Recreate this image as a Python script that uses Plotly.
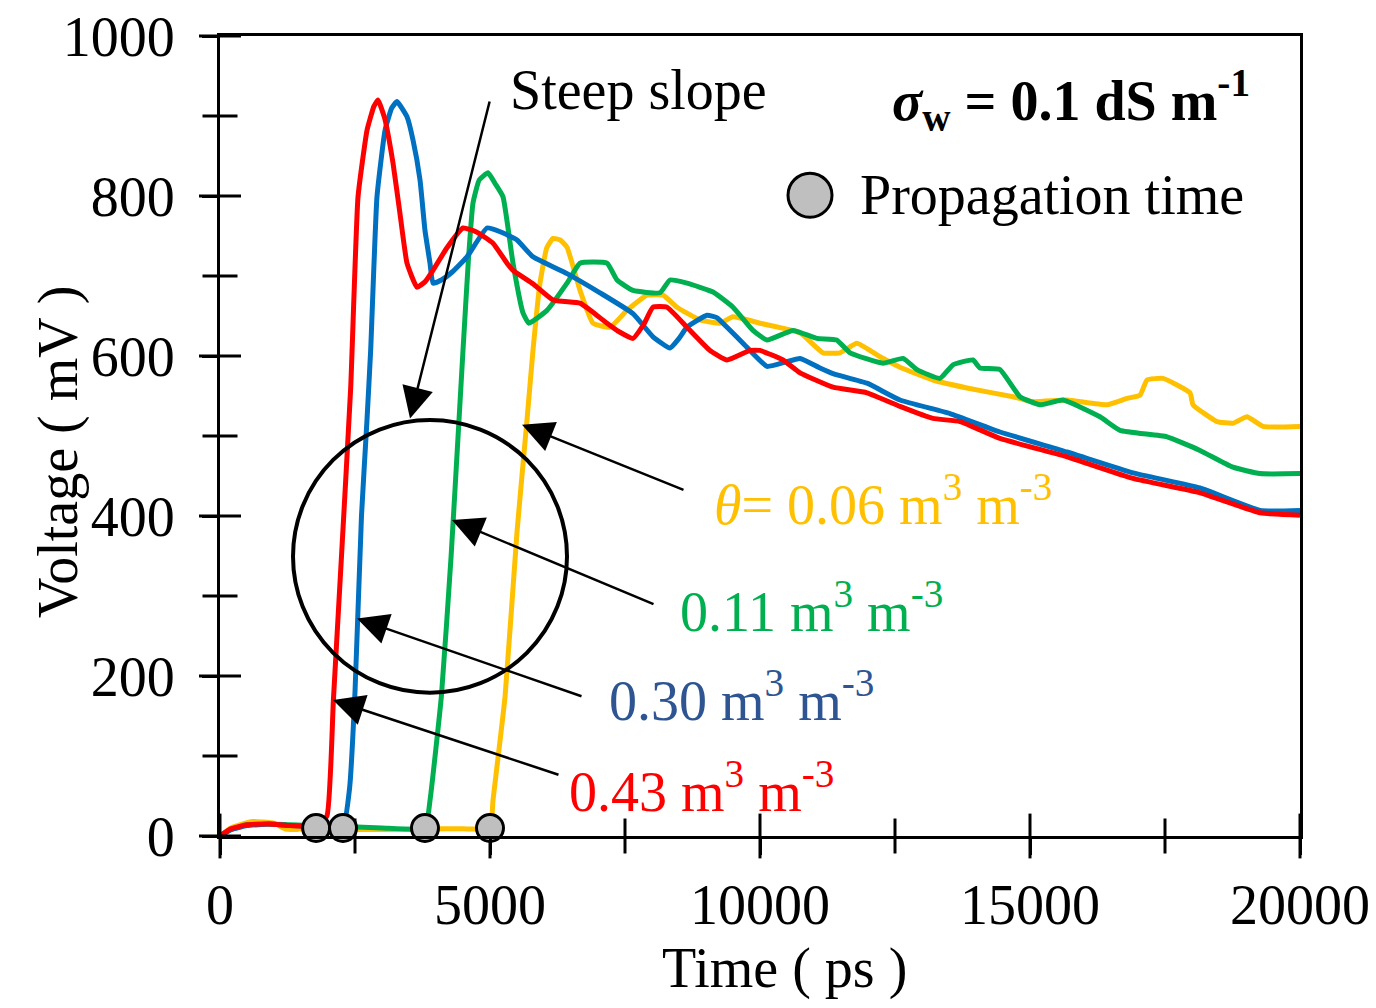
import plotly.graph_objects as go

# ---------------- data ----------------
red_t = [0, 200, 500, 900, 1300, 1780, 1980, 2100, 2250, 2420, 2556, 2722, 2850, 2926, 3050, 3204, 3333,
         3463, 3648, 3800, 3944, 4200, 4500, 4750, 5056, 5315, 5426, 5800, 6167, 6667, 6900, 7167, 7400,
         7648, 7850, 8019, 8278, 8648, 9074, 9389, 9815, 10000, 10426, 10741, 11352, 11982, 12593, 13204,
         13704, 14444, 15685, 16907, 18148, 19259, 20000]
red_v = [0, 9, 14, 15, 13, 12, 25, 170, 350, 560, 799, 882, 912, 920, 897, 841, 778,
         716, 686, 693, 707, 735, 760, 755, 741, 716, 707, 690, 670, 666, 655, 641, 630,
         622, 640, 661, 661, 636, 607, 595, 607, 607, 595, 579, 561, 554, 537, 522,
         518, 497, 474, 447, 429, 404, 401]

blue_t = [0, 200, 500, 900, 1300, 1800, 2278, 2400, 2500, 2620, 2722, 2790, 2907, 3056, 3180, 3278, 3463,
          3574, 3704, 3796, 3889, 3944, 4100, 4300, 4574, 4944, 5200, 5500, 5796, 6426, 7037, 7648, 8019,
          8333, 8500, 8648, 9019, 9200, 9389, 9685, 10130, 10450, 10741, 11111, 11352, 11982, 12593, 13519,
          14444, 15685, 16907, 18148, 19259, 20000]
blue_v = [0, 8, 13, 15, 13, 12, 12, 60, 180, 400, 520, 607, 799, 882, 910, 918, 899,
          870, 820, 757, 716, 691, 695, 705, 724, 760, 755, 745, 724, 703, 679, 653, 624,
          610, 622, 636, 651, 648, 636, 616, 587, 592, 597, 585, 578, 566, 545, 528,
          505, 480, 454, 435, 407, 407]

green_t = [0, 200, 500, 900, 1300, 1800, 2300, 3000, 3796, 3890, 4100, 4280, 4426, 4500, 4600, 4685, 4800,
           4963, 5100, 5241, 5426, 5611, 5720, 6056, 6426, 6667, 7167, 7352, 7648, 8148, 8333, 8648, 9130,
           9500, 9870, 10130, 10611, 11056, 11420, 11667, 12278, 12648, 12907, 13333, 13574, 13944, 14074,
           14444, 14815, 15185, 15611, 16296, 16667, 17537, 18148, 18759, 19259, 20000]
green_v = [0, 8, 14, 15, 14, 13, 12, 10, 10, 45, 175, 350, 520, 607, 720, 791, 820,
           829, 815, 799, 716, 654, 641, 657, 691, 716, 716, 695, 682, 679, 695, 691, 680,
           661, 632, 620, 632, 622, 620, 604, 591, 597, 583, 572, 589, 595, 585,
           583, 549, 539, 545, 524, 507, 499, 482, 461, 453, 453]

yellow_t = [0, 200, 600, 1000, 1200, 1420, 1700, 2000, 2500, 3000, 3500, 4000, 4500, 5000, 5056, 5280,
            5500, 5685, 5796, 5926, 6050, 6167, 6300, 6426, 6667, 6907, 7222, 7537, 7907, 8204, 8463,
            8889, 9259, 9500, 10000, 10741, 11167, 11481, 11796, 12222, 12593, 13204, 13833, 14685, 15056,
            15685, 16426, 16796, 17037, 17167, 17463, 17963, 18019, 18463, 18759, 19019, 19315, 20000]
yellow_v = [0, 10, 18, 16, 9, 8, 12, 9, 8, 8, 8, 9, 9, 10, 45, 175,
            380, 520, 607, 691, 735, 747, 745, 736, 682, 641, 636, 657, 676, 676, 661,
            645, 641, 649, 641, 629, 604, 604, 616, 599, 586, 570, 560, 549, 543,
            545, 539, 547, 551, 570, 572, 554, 539, 518, 516, 524, 512, 512]

prop_t = [1780, 2278, 3796, 5000]
prop_v = [10, 10, 10, 10]

x_ticks = [0, 5000, 10000, 15000, 20000]
x_labels = ["0", "5000", "10000", "15000", "20000"]
x_minor = [2500, 7500, 12500, 17500]
y_ticks = [0, 200, 400, 600, 800, 1000]
y_labels = ["0", "200", "400", "600", "800", "1000"]
y_minor = [100, 300, 500, 700, 900]

# ---------------- styles ----------------
FONT = "Liberation Serif"
FS = 56
C_RED = "#FF0000"
C_BLUE = "#0070C0"
C_GREEN = "#00B050"
C_YELLOW = "#FFC000"
C_BLUE_TXT = "#2E5591"

fig = go.Figure()

for t, v, c in [(yellow_t, yellow_v, C_YELLOW), (green_t, green_v, C_GREEN),
                (blue_t, blue_v, C_BLUE), (red_t, red_v, C_RED)]:
    fig.add_trace(go.Scatter(x=t, y=v, mode="lines",
                             line=dict(color=c, width=5, shape="spline", smoothing=0.4),
                             showlegend=False, hoverinfo="skip"))

# crossing tick marks (inner + outer halves) placed at the tick values on the axes
tick_mark = lambda sym, size: dict(symbol=sym, size=size, line=dict(color="black", width=3))
fig.add_trace(go.Scatter(x=x_ticks, y=[0] * len(x_ticks), mode="markers",
                         marker=tick_mark("line-ns", 32), cliponaxis=False,
                         showlegend=False, hoverinfo="skip"))
fig.add_trace(go.Scatter(x=x_minor, y=[0] * len(x_minor), mode="markers",
                         marker=tick_mark("line-ns", 25), cliponaxis=False,
                         showlegend=False, hoverinfo="skip"))
fig.add_trace(go.Scatter(x=[0] * len(y_ticks), y=y_ticks, mode="markers",
                         marker=tick_mark("line-ew", 30), cliponaxis=False,
                         showlegend=False, hoverinfo="skip"))
fig.add_trace(go.Scatter(x=[0] * len(y_minor), y=y_minor, mode="markers",
                         marker=tick_mark("line-ew", 25), cliponaxis=False,
                         showlegend=False, hoverinfo="skip"))

fig.add_trace(go.Scatter(x=prop_t, y=prop_v, mode="markers",
                         marker=dict(size=27, color="#BFBFBF", line=dict(color="black", width=3)),
                         cliponaxis=False, showlegend=False, hoverinfo="skip"))

tfont = dict(family=FONT, size=FS, color="black")

fig.update_layout(
    width=1376, height=1008,
    margin=dict(l=220, r=76, t=36, b=172),
    paper_bgcolor="white", plot_bgcolor="white",
    xaxis=dict(range=[0, 20000], tickvals=x_ticks, ticktext=x_labels, ticks="outside", ticklen=16,
               tickcolor="black", tickwidth=3, tickfont=tfont,
               showline=True, linecolor="black", linewidth=3, mirror=True,
               showgrid=False, zeroline=False, ticklabelstandoff=2, automargin=False),
    yaxis=dict(range=[0, 1000], tickvals=y_ticks, ticktext=y_labels, ticks="outside", ticklen=15,
               tickcolor="black", tickwidth=3, tickfont=tfont,
               showline=True, linecolor="black", linewidth=3, mirror=True,
               showgrid=False, zeroline=False, ticklabelstandoff=16, automargin=False),
    showlegend=False,
)

annotations = []
annotations.append(dict(text="Time ( ps )", xref="paper", yref="paper", x=0.523, y=-0.165,
                        showarrow=False, font=tfont, xanchor="center", yanchor="middle"))
annotations.append(dict(text="Voltage ( mV )", xref="paper", yref="paper", x=-0.150, y=0.48,
                        textangle=-90, showarrow=False, font=tfont,
                        xanchor="center", yanchor="middle"))


def label(text, x, y, color, anchor="left", size=FS):
    annotations.append(dict(text=text, x=x, y=y, xref="x", yref="y", showarrow=False,
                            font=dict(family=FONT, size=size, color=color),
                            xanchor=anchor, yanchor="middle"))


label("Steep slope", 5333, 932, "black")
label("<b><i>σ</i><sub>w</sub> = 0.1 dS m<sup>-1</sup></b>", 19111, 920, "black", anchor="right")
label("Propagation time", 11815, 801, "black")
label("<i>θ</i>= 0.06 m<sup>3</sup> m<sup>-3</sup>", 9111, 420, C_YELLOW)
label("0.11 m<sup>3</sup> m<sup>-3</sup>", 8481, 286, C_GREEN)
label("0.30 m<sup>3</sup> m<sup>-3</sup>", 7167, 174, C_BLUE_TXT)
label("0.43 m<sup>3</sup> m<sup>-3</sup>", 6426, 61, C_RED)


def arrow(tx, ty, hx, hy):
    annotations.append(dict(text="", x=hx, y=hy, ax=tx, ay=ty, xref="x", yref="y",
                            axref="x", ayref="y", showarrow=True, arrowhead=2,
                            arrowsize=2.5, arrowwidth=2.5, arrowcolor="black", standoff=0))


arrow(5000, 920, 3519, 522)
arrow(8611, 432, 5593, 514)
arrow(8056, 289, 4296, 395)
arrow(6722, 174, 2537, 272)
arrow(6296, 76, 2093, 170)

fig.update_layout(annotations=annotations)

fig.add_shape(type="circle", xref="x", yref="y", x0=1352, x1=6426, y0=179, y1=520,
              line=dict(color="black", width=4))
fig.add_shape(type="circle", xref="x", yref="y", xsizemode="pixel", ysizemode="pixel",
              xanchor=10926, yanchor=801, x0=-22, x1=22, y0=-22, y1=22,
              fillcolor="#BFBFBF", line=dict(color="black", width=3))

fig.write_html("out.html")
